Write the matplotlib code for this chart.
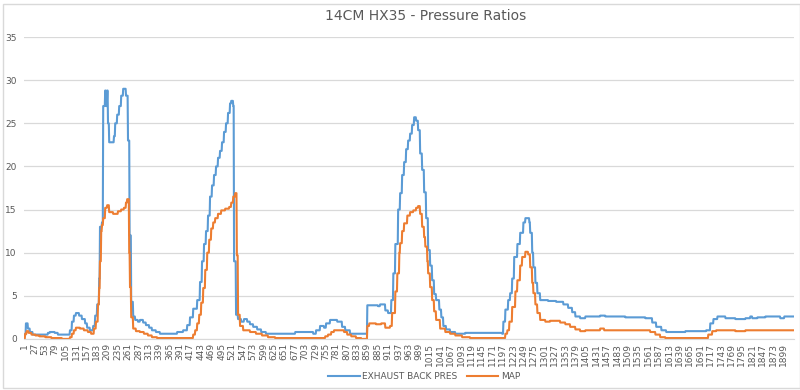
import matplotlib.pyplot as plt
import numpy as np

n_points = 1924

# exhaust back pressure: sample index where a new level starts, and that level
exh_start = [1, 6, 11, 16, 23, 61, 66, 78, 86, 116, 121, 126, 131, 139, 146, 154, 159, 166, 174, 179,
             184, 189, 191, 196, 199, 204, 206, 209, 211, 214, 226, 229, 234, 239, 244, 249, 256, 261, 265, 269,
             274, 279, 286, 291, 299, 306, 314, 321, 331, 341, 384, 399, 409, 416, 424, 434, 441, 446, 451, 456,
             461, 466, 471, 476, 481, 486, 491, 496, 501, 506, 511, 516, 519, 524, 526, 531, 536, 544, 551, 559,
             566, 574, 584, 594, 606, 679, 724, 731, 741, 751, 756, 766, 784, 796, 804, 816, 859, 886, 891, 904,
             911, 919, 924, 929, 936, 941, 946, 951, 956, 961, 966, 971, 976, 981, 986, 991, 996, 1001, 1006, 1011,
             1016, 1021, 1026, 1031, 1039, 1044, 1049, 1056, 1066, 1079, 1104, 1196, 1199, 1204, 1211, 1216, 1221, 1226, 1234, 1241,
             1249, 1254, 1264, 1266, 1271, 1274, 1279, 1284, 1291, 1311, 1331, 1349, 1361, 1371, 1379, 1391, 1404, 1441, 1454, 1504,
             1554, 1571, 1581, 1594, 1606, 1654, 1706, 1716, 1724, 1734, 1754, 1779, 1804, 1816, 1821, 1834, 1854, 1891, 1901]
exh_val = [0.5, 1.8, 1.2, 0.8, 0.5, 0.7, 0.8, 0.7, 0.5, 1.0, 2.0, 2.7, 3.0, 2.7, 2.3, 1.8, 1.3, 1.0, 1.5, 2.7,
           4.0, 7.0, 13.0, 13.5, 27.0, 28.8, 27.0, 28.8, 25.0, 22.8, 23.5, 25.0, 26.0, 27.0, 28.2, 29.0, 28.2, 23.0, 12.0, 4.3,
           2.6, 2.2, 2.0, 2.2, 1.9, 1.6, 1.3, 1.0, 0.8, 0.6, 0.8, 1.0, 1.6, 2.5, 3.5, 4.5, 6.6, 9.0, 11.0, 12.5,
           14.3, 16.5, 17.8, 19.0, 20.0, 21.0, 21.8, 22.8, 24.0, 25.0, 26.2, 27.3, 27.6, 27.0, 9.0, 2.8, 2.3, 2.0, 2.3, 2.0,
           1.7, 1.4, 1.1, 0.8, 0.6, 0.8, 0.6, 1.0, 1.5, 1.3, 1.8, 2.2, 2.0, 1.4, 1.0, 0.6, 3.9, 3.8, 4.0, 3.3,
           3.0, 4.5, 7.6, 11.0, 15.0, 16.9, 19.0, 20.5, 22.0, 23.0, 23.8, 24.8, 25.7, 25.3, 24.2, 21.5, 19.6, 17.0, 14.0, 10.3,
           8.5, 6.8, 5.2, 4.5, 3.4, 2.5, 1.5, 1.1, 0.8, 0.6, 0.7, 0.6, 2.0, 3.4, 4.5, 5.3, 7.0, 9.5, 11.0, 12.3,
           13.5, 14.0, 13.5, 12.3, 10.0, 8.3, 6.5, 5.3, 4.5, 4.4, 4.3, 4.0, 3.6, 3.1, 2.6, 2.4, 2.6, 2.7, 2.6, 2.5,
           2.4, 1.9, 1.4, 1.0, 0.8, 0.9, 1.0, 1.8, 2.3, 2.6, 2.4, 2.3, 2.4, 2.6, 2.4, 2.5, 2.6, 2.4, 2.6]

# manifold absolute pressure
map_start = [1, 4, 8, 13, 20, 30, 40, 55, 70, 96, 116, 121, 126, 131, 141, 151, 161, 169, 176, 181,
             186, 189, 191, 194, 196, 199, 204, 209, 214, 224, 236, 244, 251, 256, 259, 264, 266, 269, 274, 281,
             291, 301, 311, 321, 334, 424, 429, 434, 439, 444, 449, 454, 459, 464, 469, 474, 479, 486, 494, 504,
             514, 519, 524, 529, 533, 536, 541, 549, 566, 581, 596, 611, 629, 754, 761, 769, 776, 801, 809, 819,
             831, 844, 859, 864, 881, 894, 904, 916, 921, 929, 934, 939, 941, 946, 951, 959, 966, 974, 981, 986,
             991, 996, 1001, 1004, 1009, 1011, 1016, 1021, 1026, 1031, 1041, 1054, 1066, 1079, 1096, 1116, 1204, 1209, 1214, 1221,
             1229, 1234, 1241, 1246, 1254, 1261, 1266, 1271, 1274, 1279, 1284, 1291, 1304, 1316, 1341, 1354, 1366, 1379, 1391, 1404,
             1441, 1451, 1566, 1579, 1591, 1604, 1711, 1721, 1731, 1779, 1804]
map_val = [0.0, 0.6, 0.9, 0.7, 0.5, 0.4, 0.3, 0.2, 0.1, 0.0, 0.2, 0.6, 1.0, 1.3, 1.2, 1.0, 0.8, 0.6, 1.2, 2.0,
           4.0, 5.9, 9.0, 12.5, 13.2, 14.0, 15.2, 15.5, 14.7, 14.5, 14.8, 15.0, 15.2, 15.8, 16.2, 10.0, 6.0, 2.5, 1.2, 0.9,
           0.8, 0.6, 0.4, 0.2, 0.1, 0.5, 1.0, 1.8, 2.8, 4.2, 5.9, 8.0, 10.0, 11.5, 12.8, 13.5, 14.0, 14.5, 14.9, 15.1,
           15.3, 15.8, 16.5, 16.9, 9.7, 2.8, 1.5, 1.0, 0.8, 0.6, 0.4, 0.2, 0.1, 0.3, 0.5, 0.8, 1.0, 0.8, 0.5, 0.3,
           0.1, 0.0, 1.5, 1.8, 1.7, 1.8, 1.3, 1.5, 3.0, 5.5, 7.6, 10.0, 11.1, 12.5, 13.4, 14.3, 14.7, 14.9, 15.2, 15.4,
           14.5, 13.0, 11.8, 10.7, 9.0, 7.6, 6.0, 4.5, 3.2, 2.2, 1.2, 0.8, 0.6, 0.4, 0.2, 0.1, 0.6, 1.0, 2.0, 3.7,
           5.5, 6.8, 8.5, 9.5, 10.1, 9.8, 8.3, 6.5, 5.3, 4.0, 3.0, 2.2, 2.0, 2.1, 1.9, 1.7, 1.4, 1.1, 0.9, 1.0,
           1.2, 1.0, 0.8, 0.5, 0.2, 0.1, 0.5, 0.9, 1.0, 0.9, 1.0]


def expand(starts, vals, n):
    lengths = np.diff(np.append(starts, n + 1))
    return np.repeat(vals, lengths)


exh = expand(exh_start, exh_val, n_points)
map_p = expand(map_start, map_val, n_points)
x = np.arange(1, n_points + 1)

text_col = '#595959'
fig = plt.figure(figsize=(8, 3.9), dpi=100)
fig.patches.append(plt.Rectangle((0.004, 0.005), 0.996, 0.985, transform=fig.transFigure,
                                 fill=False, edgecolor='#d9d9d9', linewidth=1))
ax = fig.add_axes([0.0297, 0.131, 0.9625, 0.774])

ax.plot(x, exh, color='#5B9BD5', linewidth=1.5, label='EXHAUST BACK PRES')
ax.plot(x, map_p, color='#ED7D31', linewidth=1.5, label='MAP')

ax.set_xlim(0.5, n_points + 0.5)
ax.set_ylim(0, 35)
ax.set_yticks(np.arange(0, 36, 5))
ax.set_xticks(np.arange(1, n_points + 1, 26))
ax.set_xticklabels([str(v) for v in np.arange(1, n_points + 1, 26)], rotation=90)
ax.tick_params(axis='both', length=0, labelsize=6.5, labelcolor=text_col)
ax.tick_params(axis='x', pad=3)
ax.tick_params(axis='y', pad=5)
ax.grid(axis='y', color='#d9d9d9', linewidth=0.9)
ax.set_axisbelow(True)
for s in ['top', 'right', 'left']:
    ax.spines[s].set_visible(False)
ax.spines['bottom'].set_color('#d9d9d9')

fig.text(0.532, 0.96, '14CM HX35 - Pressure Ratios', ha='center', va='center',
         fontsize=10, color=text_col)
fig.legend(loc='center', bbox_to_anchor=(0.53, 0.035), ncol=2, frameon=False,
           fontsize=6.5, labelcolor=text_col, handlelength=3.5, columnspacing=1.0,
           handletextpad=0.3)

fig.savefig('out.png', dpi=100)
